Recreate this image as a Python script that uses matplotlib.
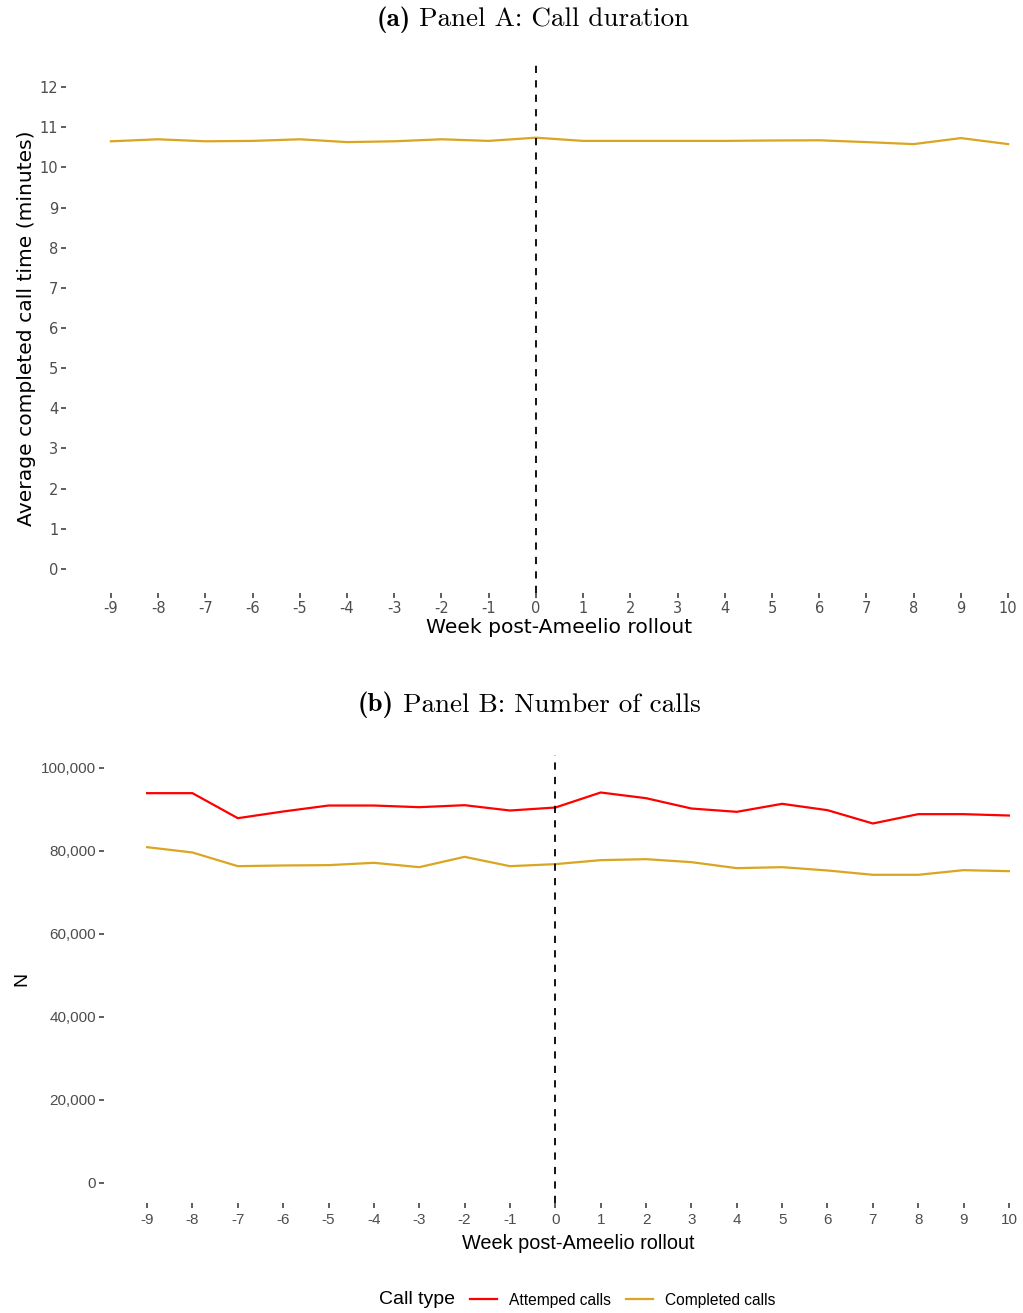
import matplotlib
matplotlib.use('Agg')
import matplotlib.pyplot as plt
from matplotlib.lines import Line2D
from matplotlib.ticker import FuncFormatter

plt.rcParams['axes.unicode_minus'] = False

weeks = list(range(-9, 11))

# average completed call time (minutes)
avg_minutes = [10.65, 10.70, 10.65, 10.66, 10.70, 10.63, 10.65, 10.70, 10.66, 10.74,
               10.66, 10.66, 10.66, 10.66, 10.67, 10.675, 10.63, 10.58, 10.73, 10.58]

# weekly call counts
attempted = [93900, 93900, 87870, 89480, 90920, 90920, 90520, 91000, 89720, 90440,
             94060, 92690, 90200, 89400, 91330, 89800, 86590, 88840, 88840, 88510]
completed = [80880, 79600, 76300, 76470, 76550, 77110, 76060, 78550, 76300, 76790,
             77750, 77990, 77270, 75820, 76060, 75260, 74220, 74220, 75340, 75100]

RED = '#FF0000'
GOLD = '#DAA520'
W, H = 1023, 1313

fig = plt.figure(figsize=(W / 100, H / 100), dpi=100)


def px_axes(left, top, right, bottom):
    return fig.add_axes([left / W, 1 - bottom / H, (right - left) / W, (bottom - top) / H])


def style(ax, font, size):
    for s in ax.spines.values():
        s.set_visible(False)
    ax.tick_params(length=3.5, width=1.1, color='#333333', labelcolor='#4D4D4D',
                   labelsize=size, pad=2)
    for lab in ax.get_xticklabels() + ax.get_yticklabels():
        lab.set_family(font)


def panel_title(cx, cy, tag, text, size=19.5):
    # bold tag followed by roman text, centred as one line
    r = fig.canvas.get_renderer()
    t1 = fig.text(0, 1 - cy / H, tag, family='cmb10', fontsize=size, va='center')
    t2 = fig.text(0, 1 - cy / H, text, family='cmr10', fontsize=size, va='center')
    w1 = t1.get_window_extent(r).width
    w2 = t2.get_window_extent(r).width
    gap = size * 0.45
    x0 = cx - (w1 + gap + w2) / 2
    t1.set_x(x0 / W)
    t2.set_x((x0 + w1 + gap) / W)


# Panel A
ax1 = px_axes(66, 63, 1053, 593)
ax1.plot(weeks, avg_minutes, color=GOLD, lw=1.6)
ax1.axvline(0, color='black', ls=(0, (4, 4)), lw=1.3)
ax1.set_xlim(-9.95, 10.95)
ax1.set_ylim(-0.6, 12.6)
ax1.set_xticks(weeks)
ax1.set_yticks(range(0, 13))
style(ax1, 'DejaVu Sans', 10.5)
ax1.set_xlabel('Week post-Ameelio rollout', family='DejaVu Sans', fontsize=14.6, labelpad=2)
ax1.set_ylabel('Average completed call time (minutes)', family='DejaVu Sans', fontsize=14.6, labelpad=3)

# Panel B
ax2 = px_axes(104, 755, 1052, 1203)
ax2.plot(weeks, attempted, color=RED, lw=1.6)
ax2.plot(weeks, completed, color=GOLD, lw=1.6)
ax2.axvline(0, color='black', ls=(0, (4, 4)), lw=1.3)
ax2.set_xlim(-9.95, 10.95)
ax2.set_ylim(-4900, 103100)
ax2.set_xticks(weeks)
ax2.set_yticks(range(0, 100001, 20000))
ax2.yaxis.set_major_formatter(FuncFormatter(lambda v, p: f'{int(v):,}'))
style(ax2, 'Liberation Sans', 11)
ax2.tick_params(axis='x', pad=4)
ax2.set_xlabel('Week post-Ameelio rollout', family='Liberation Sans', fontsize=14.3, labelpad=5)
ax2.set_ylabel('N', family='Liberation Sans', fontsize=14, labelpad=8)

panel_title(533, 20, '(a)', 'Panel A: Call duration')
panel_title(529, 705, '(b)', 'Panel B: Number of calls')

# legend
fig.text(379 / W, 1 - 1300 / H, 'Call type', family='Liberation Sans', fontsize=14,
         ha='left', va='center')
handles = [Line2D([], [], color=RED, lw=1.6), Line2D([], [], color=GOLD, lw=1.6)]
fig.legend(handles, ['Attemped calls', 'Completed calls'], ncol=2, frameon=False,
           loc='center left', bbox_to_anchor=(462 / W, 1 - 1300 / H), borderpad=0,
           prop={'family': 'Liberation Sans', 'size': 11.2},
           handlelength=1.73, handletextpad=0.77, columnspacing=1.0)

fig.savefig('out.png', dpi=100)
